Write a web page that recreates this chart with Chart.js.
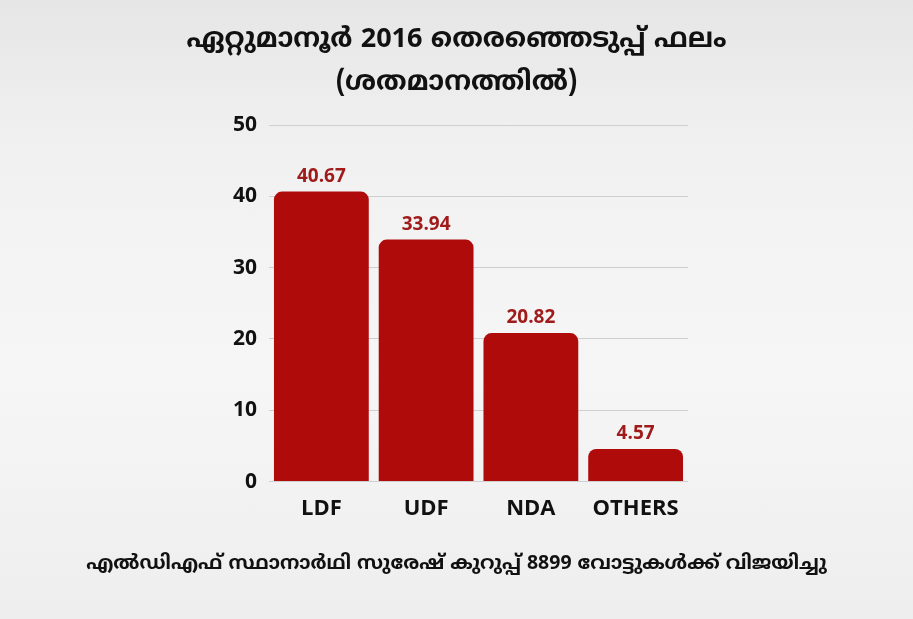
<!DOCTYPE html>
<html>
<head>
<meta charset="utf-8">
<script src="https://cdn.jsdelivr.net/npm/chart.js@4.4.0/dist/chart.umd.min.js"></script>
<style>
  html, body { margin: 0; padding: 0; }
  body {
    width: 913px; height: 619px; overflow: hidden;
    background: linear-gradient(180deg, #e6e6e6 0%, #f1f1f1 25%, #f6f6f6 60%, #eeeeee 100%);
  }
  #wrap { position: relative; width: 913px; height: 619px; }
</style>
</head>
<body>
<div id="wrap"><canvas id="chart" width="913" height="619"></canvas></div>
<script>
// Data
const categories = ['LDF', 'UDF', 'NDA', 'OTHERS'];
const voteShare = [40.67, 33.94, 20.82, 4.57];
const yTicks = [0, 10, 20, 30, 40, 50];

const titleLines = ['ഏറ്റുമാനൂർ 2016 തെരഞ്ഞെടുപ്പ് ഫലം', '(ശതമാനത്തിൽ)'];
const footText = 'എൽഡിഎഫ് സ്ഥാനാർഥി സുരേഷ് കുറുപ്പ് 8899 വോട്ടുകൾക്ക് വിജയിച്ചു';

const mlFont = "'Noto Sans Malayalam', 'Noto Sans', sans-serif";
const latinFont = "'Open Sans', 'Noto Sans', sans-serif";

// value labels above the bars
const valueLabels = {
  id: 'valueLabels',
  afterDatasetsDraw(chart) {
    const ctx = chart.ctx;
    const meta = chart.getDatasetMeta(0);
    ctx.save();
    ctx.font = "bold 19px " + latinFont;
    ctx.fillStyle = '#a01b1b';
    ctx.textAlign = 'center';
    ctx.textBaseline = 'alphabetic';
    meta.data.forEach((bar, i) => {
      ctx.fillText(voteShare[i].toFixed(2), bar.x, bar.y - 10);
    });
    ctx.restore();
  }
};

Chart.defaults.animation = false;

new Chart(document.getElementById('chart'), {
  type: 'bar',
  data: {
    labels: categories,
    datasets: [{
      data: voteShare,
      backgroundColor: '#b00b0b',
      borderWidth: 0,
      borderRadius: { topLeft: 8, topRight: 8, bottomLeft: 0, bottomRight: 0 },
      borderSkipped: 'bottom',
      barPercentage: 0.905,
      categoryPercentage: 1.0
    }]
  },
  options: {
    responsive: false,
    layout: { padding: 0 },
    scales: {
      x: {
        grid: { display: false, drawTicks: false },
        border: { display: false },
        ticks: {
          color: '#111',
          padding: 14,
          font: { family: latinFont, size: 22, weight: 'bold' }
        },
        afterFit: (scale) => { scale.height = 55; }
      },
      y: {
        min: 0,
        max: 50,
        afterBuildTicks: (scale) => { scale.ticks = yTicks.map(v => ({ value: v })); },
        grid: { color: '#cfcfcf', lineWidth: 1, drawTicks: false },
        border: { display: false },
        ticks: {
          color: '#111',
          padding: 12,
          font: { family: latinFont, size: 21, weight: 'bold' }
        },
        afterFit: (scale) => { scale.width = 269; }
      },
      // empty right axis that only reserves space so the titles stay centred on the page
      spacer: {
        type: 'linear',
        position: 'right',
        grid: { display: false, drawTicks: false },
        border: { display: false },
        ticks: { display: false },
        afterFit: (scale) => { scale.width = 225; }
      }
    },
    plugins: {
      legend: { display: false },
      tooltip: { enabled: false },
      title: {
        display: true,
        text: titleLines,
        color: '#111',
        font: { family: mlFont, size: 27, weight: 'bold', lineHeight: 1.6 },
        padding: { top: 20, bottom: 18.6 }
      },
      subtitle: {
        display: true,
        position: 'bottom',
        text: footText,
        color: '#111',
        font: { family: mlFont, size: 19.5, weight: 'bold', lineHeight: 1.2 },
        padding: { top: 17, bottom: 42 }
      }
    }
  },
  plugins: [valueLabels]
});
</script>
</body>
</html>
